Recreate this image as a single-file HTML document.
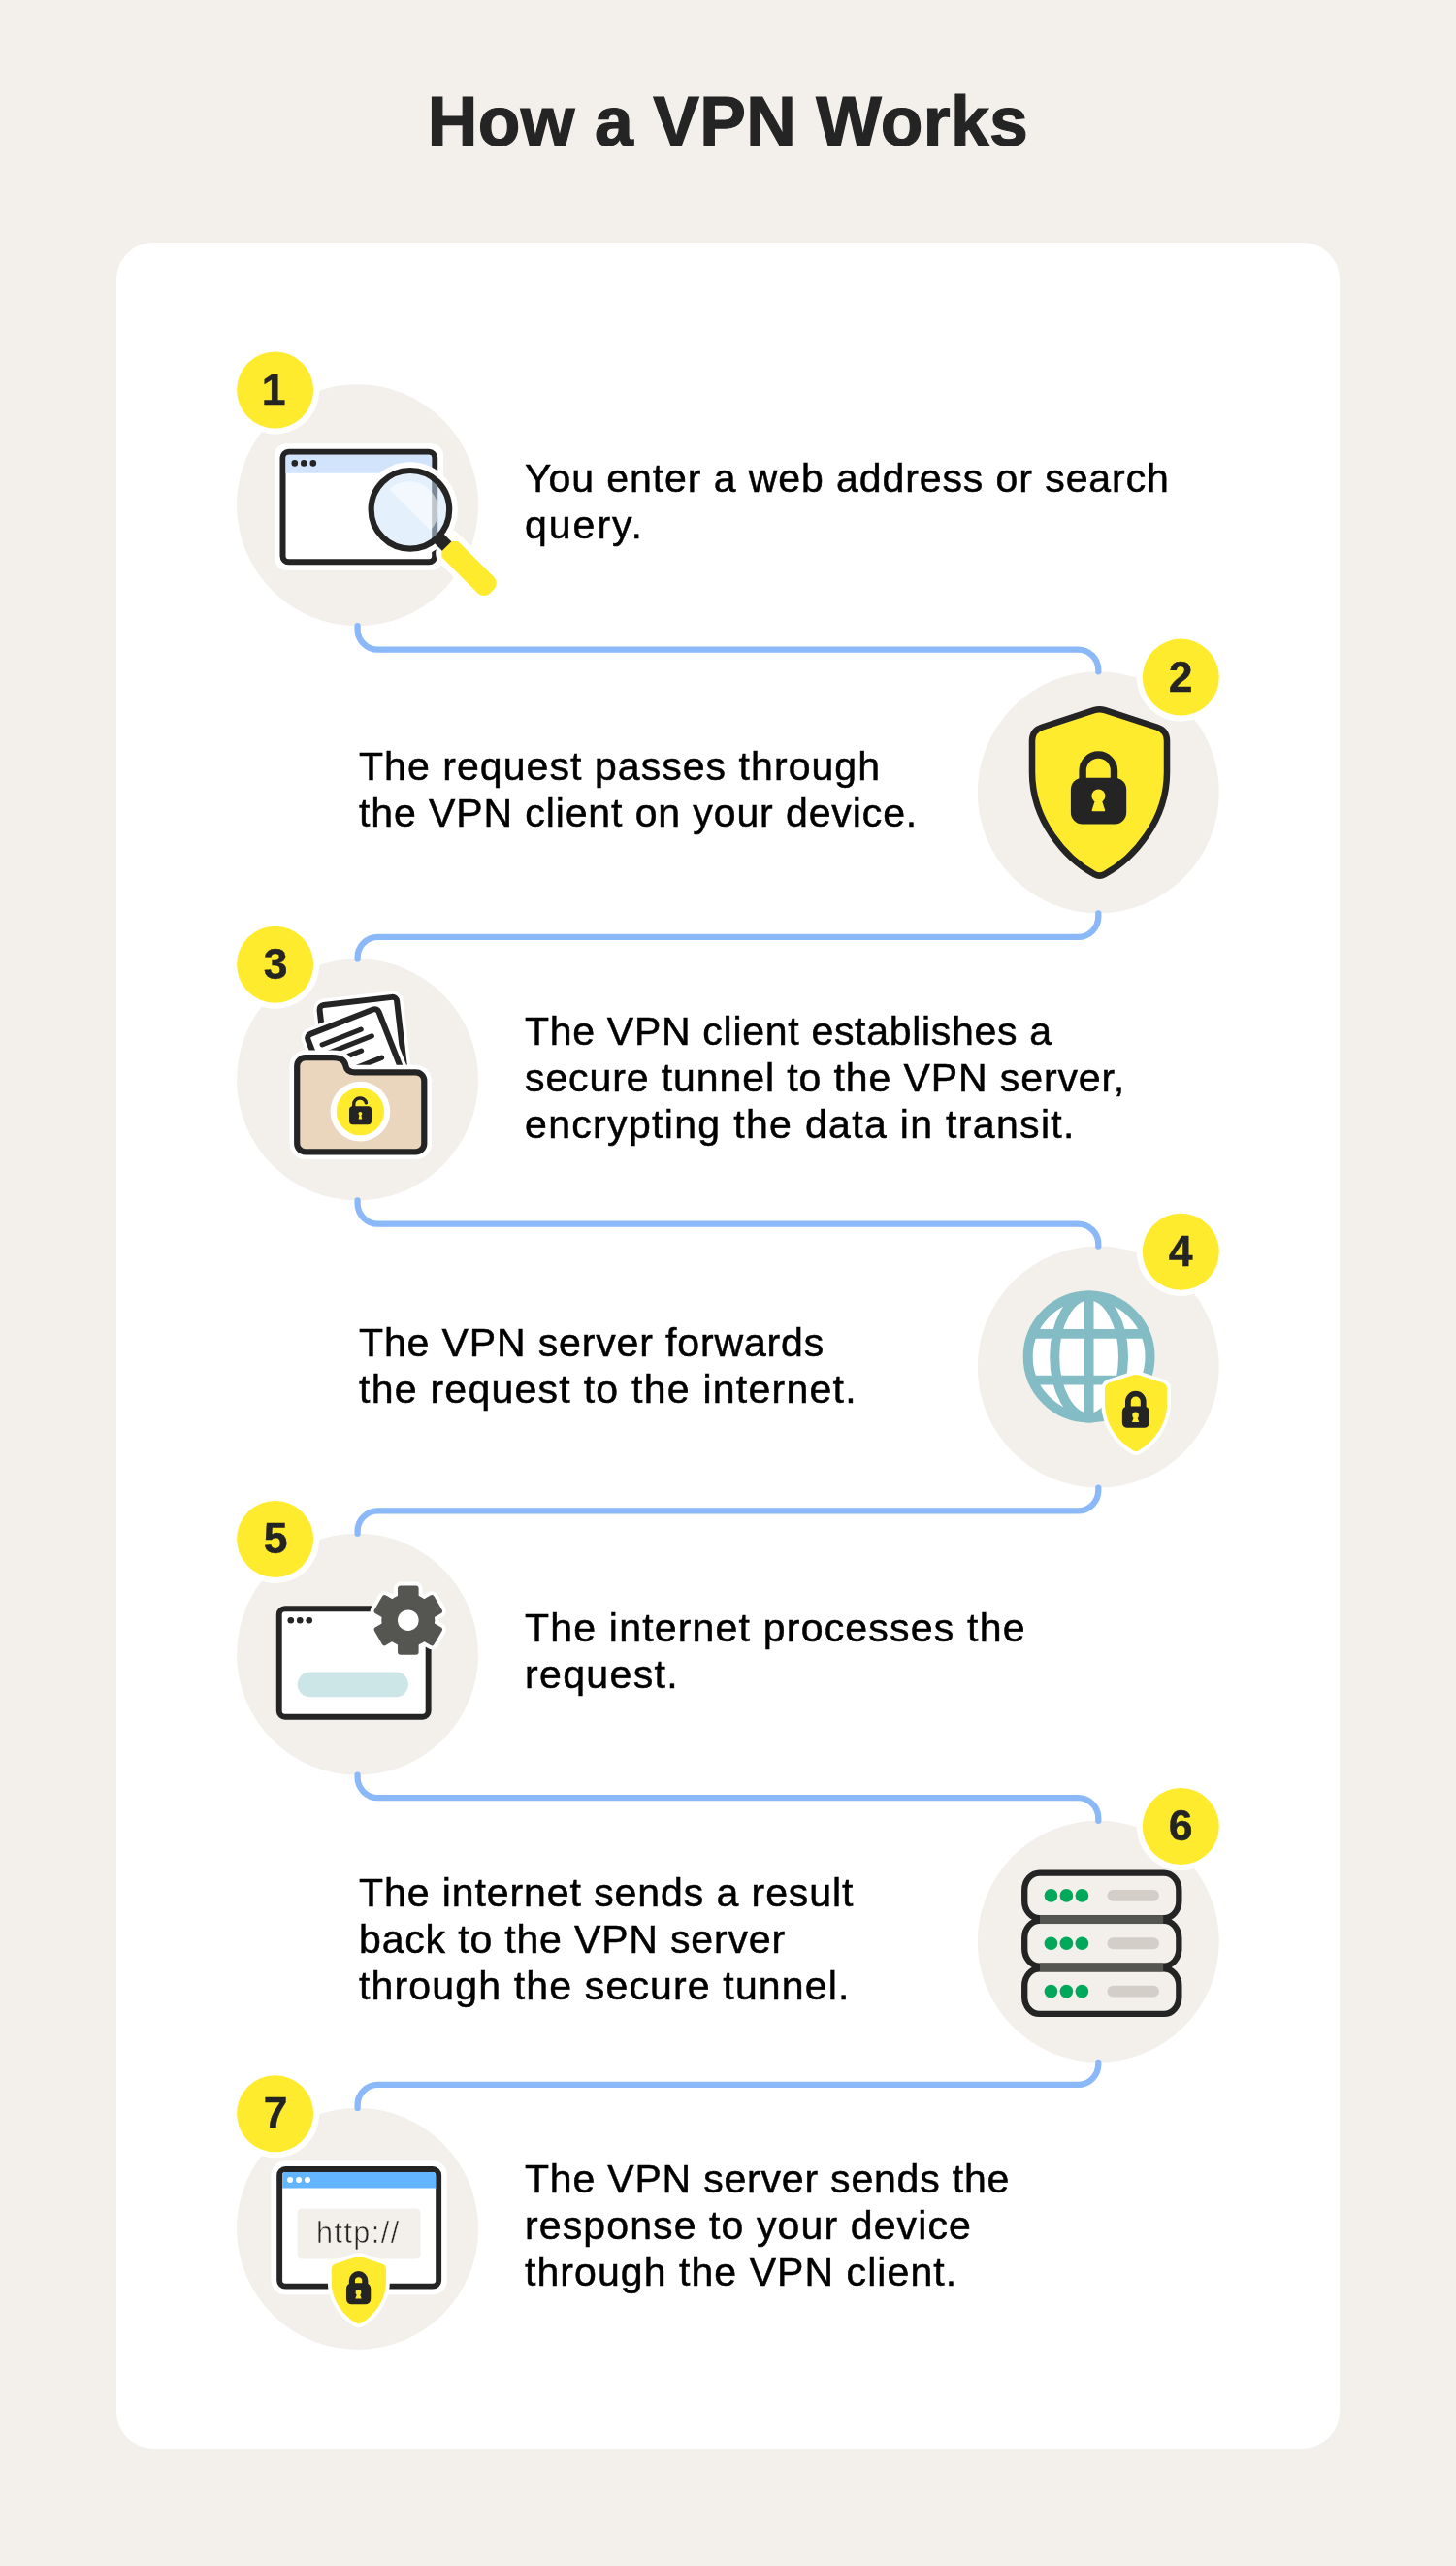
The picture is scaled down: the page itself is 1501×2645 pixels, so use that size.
<!DOCTYPE html>
<html lang="en"><head><meta charset="utf-8"><title>How a VPN Works</title>
<style>
html,body{margin:0;padding:0;background:#f3f0eb;}
#page{position:relative;width:1501px;height:2645px;background:#f3f0eb;overflow:hidden;font-family:"Liberation Sans",sans-serif;}
#card{position:absolute;left:120px;top:250px;width:1261px;height:2274px;border-radius:38px;background:#fff;}
h1{position:absolute;margin:0;left:0;width:1501px;top:85.2px;text-align:center;font-weight:700;font-size:71.5px;line-height:80px;color:#242424;letter-spacing:0.32px;white-space:nowrap;-webkit-text-stroke:1.2px #242424;}
#art{position:absolute;left:0;top:0;}
.t,.u,.b,h1{will-change:transform;}
.t{position:absolute;font-size:41px;line-height:48px;color:#000;white-space:nowrap;-webkit-text-stroke:0.5px #000;}
.u{position:absolute;left:325.9px;top:2283.2px;font-size:30.6px;line-height:36px;letter-spacing:1.45px;color:#242424;-webkit-text-stroke:0.6px #f3f0eb;white-space:nowrap;}
.b{position:absolute;width:80px;height:80px;line-height:80px;text-align:center;font-weight:700;font-size:44.5px;color:#242424;-webkit-text-stroke:0.4px #242424;}
</style></head><body>
<div id="page">
<h1>How a VPN Works</h1>
<div id="card"></div>
<svg id="art" width="1501" height="2645" viewBox="0 0 1501 2645">
<defs>
<path id="shield" d="M-5.7,1.8 L-59,19.2 Q-69.5,22.5 -69.5,33.5 V65.7 C-69.5,115.7 -35.1,154.5 -5.3,170.9 Q0,173.8 5.3,170.9 C35.1,154.5 69.5,115.7 69.5,65.7 V33.5 Q69.5,22.5 59,19.2 L5.7,1.8 Q0,0 -5.7,1.8 Z"/>
</defs>

<circle cx="368.6" cy="520.7" r="124.5" fill="#f3f0eb"/>
<circle cx="1132.3" cy="816.82" r="124.5" fill="#f3f0eb"/>
<circle cx="368.6" cy="1112.94" r="124.5" fill="#f3f0eb"/>
<circle cx="1132.3" cy="1409.06" r="124.5" fill="#f3f0eb"/>
<circle cx="368.6" cy="1705.18" r="124.5" fill="#f3f0eb"/>
<circle cx="1132.3" cy="2001.3" r="124.5" fill="#f3f0eb"/>
<circle cx="368.6" cy="2297.42" r="124.5" fill="#f3f0eb"/>
<path d="M368.6,645.2 V648.7 A21,21 0 0 0 389.6,669.7 H1111.3 A21,21 0 0 1 1132.3,690.7 V692.32" fill="none" stroke="#8ab8f8" stroke-width="6.3" stroke-linecap="round"/>
<path d="M1132.3,941.32 V944.8 A21,21 0 0 1 1111.3,965.8 H389.6 A21,21 0 0 0 368.6,986.8 V988.44" fill="none" stroke="#8ab8f8" stroke-width="6.3" stroke-linecap="round"/>
<path d="M368.6,1237.44 V1240.55 A21,21 0 0 0 389.6,1261.55 H1111.3 A21,21 0 0 1 1132.3,1282.55 V1284.56" fill="none" stroke="#8ab8f8" stroke-width="6.3" stroke-linecap="round"/>
<path d="M1132.3,1533.56 V1536.3 A21,21 0 0 1 1111.3,1557.3 H389.6 A21,21 0 0 0 368.6,1578.3 V1580.68" fill="none" stroke="#8ab8f8" stroke-width="6.3" stroke-linecap="round"/>
<path d="M368.6,1829.68 V1832.05 A21,21 0 0 0 389.6,1853.05 H1111.3 A21,21 0 0 1 1132.3,1874.05 V1876.8" fill="none" stroke="#8ab8f8" stroke-width="6.3" stroke-linecap="round"/>
<path d="M1132.3,2125.8 V2127.8 A21,21 0 0 1 1111.3,2148.8 H389.6 A21,21 0 0 0 368.6,2169.8 V2172.92" fill="none" stroke="#8ab8f8" stroke-width="6.3" stroke-linecap="round"/>
<g id="icon1">
<clipPath id="glassclip"><circle cx="422.9" cy="525.3" r="40.3"/></clipPath>
<rect x="283" y="457.3" width="174" height="130.5" rx="12" fill="#fff"/>
<g transform="translate(460,562.3) rotate(45)">
<rect x="-14" y="-17.5" width="86.5" height="35" rx="14" fill="#fff"/>
</g>
<rect x="291.5" y="465.8" width="156.7" height="113.5" rx="6" fill="#fff" stroke="#242424" stroke-width="6"/>
<path d="M294.5,487.7 V471.8 a3,3 0 0 1 3,-3 H442.2 a3,3 0 0 1 3,3 V487.7 Z" fill="#d1e4fb"/>
<circle cx="303.8" cy="477.4" r="3.3" fill="#242424"/><circle cx="313.3" cy="477.4" r="3.3" fill="#242424"/><circle cx="322.8" cy="477.4" r="3.3" fill="#242424"/>
<g transform="translate(460,562.3) rotate(45)">
<rect x="-6" y="-17.5" width="78.5" height="35" rx="14" fill="#fff"/>
<path d="M0,-6.2 L5.5,-11.75 H57.7 a9,9 0 0 1 9,9 V2.75 a9,9 0 0 1 -9,9 H5.2 L0,6.55 Z" fill="#ffeb2d"/>
</g>
<circle cx="422.9" cy="525.3" r="49" fill="#fff"/>
<line x1="449" y1="551.4" x2="460.6" y2="563" stroke="#242424" stroke-width="13.5"/>
<rect x="291.5" y="465.8" width="156.7" height="113.5" rx="6" fill="none" stroke="#242424" stroke-width="6" clip-path="url(#glassclip)"/>
<circle cx="422.9" cy="525.3" r="40.3" fill="#cce5fb" fill-opacity="0.53"/>
<path d="M401.4,504.4 A30,30 0 0 1 443.8,546.8 Z" fill="#fff" fill-opacity="0.5"/>
<circle cx="422.9" cy="525.3" r="40.3" fill="none" stroke="#242424" stroke-width="6.2"/>
</g>

<g id="icon2">
<path d="M1127.8,732.1 L1074.5,749.5 Q1064,752.8 1064,763.8 V796 C1064,846 1098.4,884.8 1128.2,901.2 Q1133.5,904.1 1138.8,901.2 C1168.6,884.8 1203,846 1203,796 V763.8 Q1203,752.8 1192.5,749.5 L1139.2,732.1 Q1133.5,730.3 1127.8,732.1 Z" fill="#ffeb2d" stroke="#242424" stroke-width="6.5" stroke-linejoin="round"/>
<rect x="1103.9" y="801.7" width="57.3" height="47.9" rx="12" fill="#242424"/>
<path d="M1116.1,804 V794.2 A16.2,16.2 0 0 1 1148.5,794.2 V804" fill="none" stroke="#242424" stroke-width="7.4"/>
<circle cx="1132.4" cy="820.4" r="7" fill="#ffeb2d"/>
<path d="M1129.2,824 L1135.6,824 L1139.2,835.2 Q1139.4,836.3 1138.4,836.3 L1126.4,836.3 Q1125.4,836.3 1125.6,835.2 Z" fill="#ffeb2d"/>
</g>

<g id="icon3">
<g transform="translate(329.05,1036.57) rotate(-6.6)">
<rect x="0" y="0" width="80.1" height="90" rx="4.5" fill="#fff" stroke="#fff" stroke-width="13"/>
<rect x="0" y="0" width="80.1" height="90" rx="4.5" fill="#fff" stroke="#242424" stroke-width="6"/>
</g>
<g transform="translate(315.83,1067.52) rotate(-21.4)">
<rect x="0" y="0" width="78.5" height="85" rx="4.5" fill="#fff" stroke="#fff" stroke-width="13"/>
<rect x="0" y="0" width="78.5" height="85" rx="4.5" fill="#fff" stroke="#242424" stroke-width="6"/>
<g stroke="#242424" stroke-width="5.2" stroke-linecap="round">
<line x1="11.8" y1="14.6" x2="54.8" y2="14.6"/>
<line x1="11.8" y1="25" x2="62.7" y2="25"/>
<line x1="11.8" y1="35.2" x2="47.1" y2="35.2"/>
<line x1="11.8" y1="49.5" x2="64.1" y2="49.5"/>
</g>
</g>
<path id="fold3" d="M306.2,1098.8 A8.6,8.6 0 0 1 314.8,1090.2 H343 Q354.5,1090.2 356.2,1098 Q357.5,1105.3 365.5,1105.3 H428.7 A8.6,8.6 0 0 1 437.3,1113.9 V1178.7 A8.6,8.6 0 0 1 428.7,1187.3 H314.8 A8.6,8.6 0 0 1 306.2,1178.7 Z" fill="#fff" stroke="#fff" stroke-width="15.2" stroke-linejoin="round"/>
<path d="M306.2,1098.8 A8.6,8.6 0 0 1 314.8,1090.2 H343 Q354.5,1090.2 356.2,1098 Q357.5,1105.3 365.5,1105.3 H428.7 A8.6,8.6 0 0 1 437.3,1113.9 V1178.7 A8.6,8.6 0 0 1 428.7,1187.3 H314.8 A8.6,8.6 0 0 1 306.2,1178.7 Z" fill="#ead5bd" stroke="#242424" stroke-width="6.2" stroke-linejoin="round"/>
<circle cx="371.4" cy="1145.7" r="30.9" fill="#fff"/>
<circle cx="371.4" cy="1145.7" r="24.6" fill="#ffeb2d"/>
<rect x="360.05" y="1140.2" width="23" height="19" rx="3.6" fill="#242424"/>
<path d="M364.7,1141 V1138.4 A6.45,6.45 0 0 1 377.4,1136.8" fill="none" stroke="#242424" stroke-width="3.5" stroke-linecap="round"/>
<circle cx="371.4" cy="1147.8" r="1.9" fill="#ffeb2d"/>
<path d="M370.6,1148.5 L372.2,1148.5 L373.2,1153.4 L369.6,1153.4 Z" fill="#ffeb2d"/>
</g>

<g id="icon4">
<circle cx="1122.6" cy="1398.5" r="62.9" fill="#fff" stroke="#83bcc4" stroke-width="10"/>
<ellipse cx="1122.6" cy="1398.5" rx="35.4" ry="62.9" fill="none" stroke="#83bcc4" stroke-width="10"/>
<line x1="1122.6" y1="1335.6" x2="1122.6" y2="1461.4" stroke="#83bcc4" stroke-width="9.8"/>
<line x1="1062" y1="1374.9" x2="1183" y2="1374.9" stroke="#83bcc4" stroke-width="9.8"/>
<line x1="1062" y1="1422.7" x2="1183" y2="1422.7" stroke="#83bcc4" stroke-width="9.8"/>
<g transform="translate(1171.1,1416.5) scale(0.462)">
<use href="#shield" fill="#fff" stroke="#fff" stroke-width="16.5" stroke-linejoin="round"/>
<use href="#shield" fill="#ffeb2d"/>
</g>
<rect x="1156.85" y="1449.6" width="27.9" height="22.2" rx="5.3" fill="#242424"/>
<path d="M1162.9,1451 V1444.6 A7.9,7.9 0 0 1 1178.7,1444.6 V1451" fill="none" stroke="#242424" stroke-width="5.8"/>
<circle cx="1170.6" cy="1458.9" r="3.3" fill="#ffeb2d"/>
<path d="M1169.1,1460.5 L1172.1,1460.5 L1174.3,1465.9 L1166.9,1465.9 Z" fill="#ffeb2d"/>
</g>

<g id="icon5">
<rect x="287.75" y="1658.2" width="153.9" height="111.5" rx="6" fill="#fff" stroke="#242424" stroke-width="5.9"/>
<circle cx="299.8" cy="1670.2" r="3.3" fill="#242424"/><circle cx="309.25" cy="1670.2" r="3.3" fill="#242424"/><circle cx="318.7" cy="1670.2" r="3.3" fill="#242424"/>
<rect x="306.7" y="1723.4" width="114.2" height="25.8" rx="12.9" fill="#cce5e6"/>
<g transform="translate(420.8,1670.2)">
<g fill="#fff" stroke="#fff" stroke-width="8" stroke-linejoin="round"><circle r="27.5"/><rect x="-10.8" y="-35.6" width="21.6" height="20" rx="3" transform="rotate(0)"/><rect x="-10.8" y="-35.6" width="21.6" height="20" rx="3" transform="rotate(60)"/><rect x="-10.8" y="-35.6" width="21.6" height="20" rx="3" transform="rotate(120)"/><rect x="-10.8" y="-35.6" width="21.6" height="20" rx="3" transform="rotate(180)"/><rect x="-10.8" y="-35.6" width="21.6" height="20" rx="3" transform="rotate(240)"/><rect x="-10.8" y="-35.6" width="21.6" height="20" rx="3" transform="rotate(300)"/></g>
<g fill="#555651"><circle r="27.5"/><rect x="-10.8" y="-35.6" width="21.6" height="20" rx="3" transform="rotate(0)"/><rect x="-10.8" y="-35.6" width="21.6" height="20" rx="3" transform="rotate(60)"/><rect x="-10.8" y="-35.6" width="21.6" height="20" rx="3" transform="rotate(120)"/><rect x="-10.8" y="-35.6" width="21.6" height="20" rx="3" transform="rotate(180)"/><rect x="-10.8" y="-35.6" width="21.6" height="20" rx="3" transform="rotate(240)"/><rect x="-10.8" y="-35.6" width="21.6" height="20" rx="3" transform="rotate(300)"/></g>
<circle r="10.8" fill="#fff"/>
</g>
</g>

<g id="icon6">
<rect x="1056.2" y="1930.55" width="159.15" height="46.7" rx="15.4" ry="17.5" fill="#f3f0eb" stroke="#242424" stroke-width="6.3"/>
<rect x="1056.2" y="1979.90" width="159.15" height="46.7" rx="15.4" ry="17.5" fill="#f3f0eb" stroke="#242424" stroke-width="6.3"/>
<rect x="1056.2" y="2029.25" width="159.15" height="46.7" rx="15.4" ry="17.5" fill="#f3f0eb" stroke="#242424" stroke-width="6.3"/>
<rect x="1072" y="1974.10" width="127.2" height="8.95" fill="#555651"/>
<rect x="1072" y="2023.45" width="127.2" height="8.95" fill="#555651"/>
<circle cx="1083.45" cy="1953.90" r="6.85" fill="#00a85a"/>
<circle cx="1099.4" cy="1953.90" r="6.85" fill="#00a85a"/>
<circle cx="1115.4" cy="1953.90" r="6.85" fill="#00a85a"/>
<rect x="1141.5" y="1948.00" width="53.5" height="11.8" rx="5.9" fill="#d3cec8"/>
<circle cx="1083.45" cy="2003.25" r="6.85" fill="#00a85a"/>
<circle cx="1099.4" cy="2003.25" r="6.85" fill="#00a85a"/>
<circle cx="1115.4" cy="2003.25" r="6.85" fill="#00a85a"/>
<rect x="1141.5" y="1997.35" width="53.5" height="11.8" rx="5.9" fill="#d3cec8"/>
<circle cx="1083.45" cy="2052.60" r="6.85" fill="#00a85a"/>
<circle cx="1099.4" cy="2052.60" r="6.85" fill="#00a85a"/>
<circle cx="1115.4" cy="2052.60" r="6.85" fill="#00a85a"/>
<rect x="1141.5" y="2046.70" width="53.5" height="11.8" rx="5.9" fill="#d3cec8"/>
</g>

<g id="icon7">
<rect x="279.5" y="2227.3" width="181.3" height="138" rx="14.5" fill="#fff"/>
<rect x="288.15" y="2236" width="164" height="120.65" rx="6" fill="#fff" stroke="#242424" stroke-width="5.9"/>
<path d="M291.1,2255.5 V2241.9 a3,3 0 0 1 3,-3 H446.2 a3,3 0 0 1 3,3 V2255.5 Z" fill="#64b5ff"/>
<circle cx="299.1" cy="2247.1" r="3" fill="#fff"/><circle cx="308.05" cy="2247.1" r="3" fill="#fff"/><circle cx="317" cy="2247.1" r="3" fill="#fff"/>
<rect x="306.7" y="2276.4" width="126.85" height="52.2" rx="4.5" fill="#f3f0eb"/>
<g transform="translate(369.85,2325.6) scale(0.405)">
<use href="#shield" fill="#fff" stroke="#fff" stroke-width="19.3" stroke-linejoin="round"/>
<use href="#shield" fill="#ffeb2d"/>
</g>
<rect x="356.95" y="2353.3" width="25.3" height="22" rx="5.6" fill="#242424"/>
<path d="M362.9,2356 V2350.85 A6.7,6.7 0 0 1 376.3,2350.85 V2356" fill="none" stroke="#242424" stroke-width="6.1"/>
<circle cx="369.5" cy="2362.9" r="2.9" fill="#ffeb2d"/>
<path d="M368.2,2364.3 L370.8,2364.3 L372.7,2369.4 L366.3,2369.4 Z" fill="#ffeb2d"/>
</g>

<circle cx="283.6" cy="402.00000000000006" r="45.5" fill="#fff"/><circle cx="283.6" cy="402.00000000000006" r="39.5" fill="#ffeb2d"/>
<circle cx="1217.3" cy="698.12" r="45.5" fill="#fff"/><circle cx="1217.3" cy="698.12" r="39.5" fill="#ffeb2d"/>
<circle cx="283.6" cy="994.24" r="45.5" fill="#fff"/><circle cx="283.6" cy="994.24" r="39.5" fill="#ffeb2d"/>
<circle cx="1217.3" cy="1290.36" r="45.5" fill="#fff"/><circle cx="1217.3" cy="1290.36" r="39.5" fill="#ffeb2d"/>
<circle cx="283.6" cy="1586.48" r="45.5" fill="#fff"/><circle cx="283.6" cy="1586.48" r="39.5" fill="#ffeb2d"/>
<circle cx="1217.3" cy="1882.6" r="45.5" fill="#fff"/><circle cx="1217.3" cy="1882.6" r="39.5" fill="#ffeb2d"/>
<circle cx="283.6" cy="2178.7200000000003" r="45.5" fill="#fff"/><circle cx="283.6" cy="2178.7200000000003" r="39.5" fill="#ffeb2d"/>
</svg>
<div class="b" style="left:242.10000000000002px;top:361.70000000000005px">1</div>
<div class="b" style="left:1177.3px;top:657.82px">2</div>
<div class="b" style="left:243.60000000000002px;top:953.94px">3</div>
<div class="b" style="left:1177.3px;top:1250.06px">4</div>
<div class="b" style="left:243.60000000000002px;top:1546.18px">5</div>
<div class="b" style="left:1177.3px;top:1842.3px">6</div>
<div class="b" style="left:243.60000000000002px;top:2138.42px">7</div>
<div class="t" style="left:541px;top:468.79px;letter-spacing:0.922px">You enter a web address or search</div>
<div class="t" style="left:541px;top:516.79px;letter-spacing:2.0px">query.</div>
<div class="t" style="left:370px;top:766.29px;letter-spacing:1.06px">The request passes through</div>
<div class="t" style="left:370px;top:814.29px;letter-spacing:0.897px">the VPN client on your device.</div>
<div class="t" style="left:541px;top:1039.29px;letter-spacing:0.704px">The VPN client establishes a</div>
<div class="t" style="left:541px;top:1087.29px;letter-spacing:0.903px">secure tunnel to the VPN server,</div>
<div class="t" style="left:541px;top:1135.29px;letter-spacing:1.333px">encrypting the data in transit.</div>
<div class="t" style="left:370px;top:1359.99px;letter-spacing:0.864px">The VPN server forwards</div>
<div class="t" style="left:370px;top:1407.99px;letter-spacing:1.259px">the request to the internet.</div>
<div class="t" style="left:541px;top:1653.59px;letter-spacing:1.2px">The internet processes the</div>
<div class="t" style="left:541px;top:1701.59px;letter-spacing:1.357px">request.</div>
<div class="t" style="left:370px;top:1926.79px;letter-spacing:0.923px">The internet sends a result</div>
<div class="t" style="left:370px;top:1974.79px;letter-spacing:0.833px">back to the VPN server</div>
<div class="t" style="left:370px;top:2022.79px;letter-spacing:1.16px">through the secure tunnel.</div>
<div class="t" style="left:541px;top:2221.79px;letter-spacing:0.804px">The VPN server sends the</div>
<div class="t" style="left:541px;top:2269.79px;letter-spacing:1.114px">response to your device</div>
<div class="t" style="left:541px;top:2317.79px;letter-spacing:1.068px">through the VPN client.</div>
<div class="u">http://</div>
</div>
</body></html>
